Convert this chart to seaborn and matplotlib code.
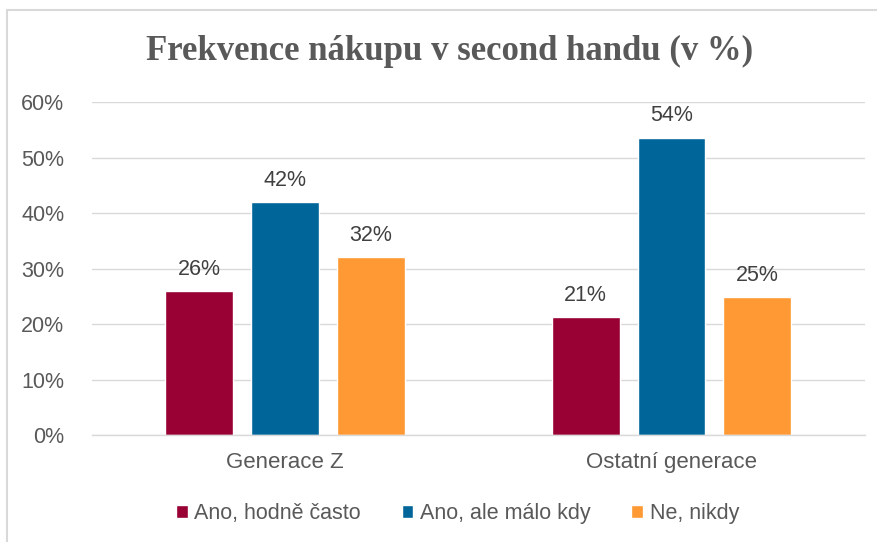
import matplotlib
matplotlib.use("Agg")
import matplotlib.pyplot as plt
import seaborn as sns
import pandas as pd
from matplotlib.lines import Line2D

categories = ["Generace Z", "Ostatní generace"]
series_names = ["Ano, hodně často", "Ano, ale málo kdy", "Ne, nikdy"]
values_often = [25.9, 21.3]
values_rarely = [41.9, 53.6]
values_never = [32.1, 24.9]
colors = ["#990033", "#006699", "#FF9933"]
y_ticks = [0, 10, 20, 30, 40, 50, 60]

rows = []
for name, vals in zip(series_names, [values_often, values_rarely, values_never]):
    for cat, v in zip(categories, vals):
        rows.append({"cat": cat, "series": name, "value": v})
df = pd.DataFrame(rows)

sns.set_theme(style="white")
plt.rcParams["font.family"] = ["Liberation Sans", "DejaVu Sans"]

fig = plt.figure(figsize=(8.78, 5.42), dpi=100)
ax = fig.add_axes([0.1048, 0.1974, 0.880, 0.6144])

sns.barplot(data=df, x="cat", y="value", hue="series", order=categories,
            hue_order=series_names, palette=colors, width=0.667, gap=0.21,
            saturation=1, ax=ax, legend=True)

ax.set_ylim(0, 60)
ax.set_xlim(-0.5, 1.5)
ax.set_yticks(y_ticks)
ax.set_yticklabels([f"{t}%" for t in y_ticks])
ax.yaxis.grid(True, color="#D9D9D9", linewidth=1)
ax.set_axisbelow(True)
for s in ["top", "right", "left"]:
    ax.spines[s].set_visible(False)
ax.spines["bottom"].set_color("#D9D9D9")
ax.spines["bottom"].set_linewidth(1)
ax.tick_params(axis="y", length=0, pad=20, labelsize=15.5, labelcolor="#595959")
ax.tick_params(axis="x", length=0, pad=12, labelsize=16, labelcolor="#595959")
ax.set_xlabel("")
ax.set_ylabel("")

for cont in ax.containers:
    ax.bar_label(cont, labels=[f"{round(b.get_height()):.0f}%" for b in cont],
                 padding=8, fontsize=15.5, color="#404040")

handles, labels = ax.get_legend_handles_labels()
ax.legend(handles, labels, loc="center", bbox_to_anchor=(0.473, -0.236), ncol=3,
          frameon=False, fontsize=15.5, labelcolor="#595959",
          handlelength=0.55, handleheight=0.55, handletextpad=0.3, columnspacing=1.9)

fig.text(0.512, 0.905, "Frekvence nákupu v second handu (v %)", ha="center", va="center",
         fontsize=25, fontweight="bold", color="#595959",
         family=["Liberation Serif", "DejaVu Serif"])

# chart frame (left and top border)
fig.add_artist(Line2D([0.008, 0.008], [0.0, 0.982], color="#D9D9D9", linewidth=1.5,
                      transform=fig.transFigure))
fig.add_artist(Line2D([0.008, 1.0], [0.982, 0.982], color="#D9D9D9", linewidth=1.5,
                      transform=fig.transFigure))

fig.savefig("out.png", dpi=100, facecolor="white")
